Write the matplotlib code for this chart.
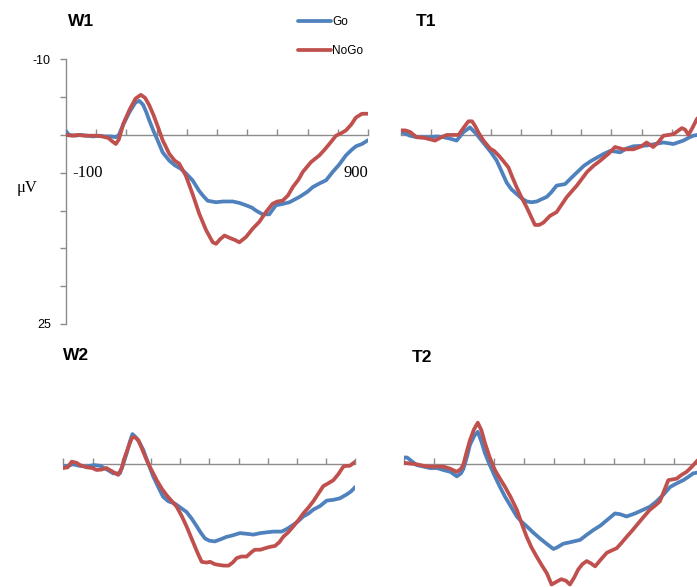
import numpy as np
import matplotlib
matplotlib.use("Agg")
import matplotlib.pyplot as plt

# ---------------- data (ms, µV) ----------------
w1_go_t = [-100, -90, -70, -50, -30, -10, 10, 30, 50, 65, 75, 90, 110, 130, 143, 155, 166, 176, 190, 200,
           220, 242, 260, 281, 300, 319, 341, 355, 369, 397, 420, 452, 475, 496, 515, 529, 551, 573, 595,
           620, 640, 673, 700, 717, 740, 761, 783, 805, 827, 845, 860, 880, 900]
w1_go_v = [-0.5, 0.0, 0.1, 0.0, 0.1, 0.2, 0.1, 0.2, 0.2, 0.3, 0.0, -1.4, -3.0, -4.3, -4.5, -4.0, -3.0, -1.9, -0.5, 0.4,
           2.3, 3.4, 4.0, 4.5, 5.2, 6.0, 7.4, 8.1, 8.7, 8.9, 8.8, 8.8, 9.0, 9.3, 9.6, 10.0, 10.5, 10.5, 9.3,
           9.1, 8.9, 8.2, 7.5, 6.9, 6.4, 6.0, 4.9, 3.9, 2.7, 2.0, 1.5, 1.2, 0.7]
w1_nogo_t = [-100, -80, -60, -40, -20, 0, 20, 40, 55, 65, 75, 90, 110, 130, 148, 162, 176, 190, 205, 220,
             242, 260, 275, 297, 319, 341, 364, 386, 397, 410, 425, 441, 460, 474, 496, 518, 540, 562, 584,
             600, 617, 635, 651, 670, 684, 711, 739, 755, 772, 794, 810, 827, 845, 860, 880, 900]
w1_nogo_v = [0.0, 0.1, 0.0, 0.1, 0.1, 0.1, 0.2, 0.4, 0.9, 1.2, 0.6, -1.5, -3.3, -4.8, -5.3, -4.9, -3.9, -2.6, -1.0, 0.7,
             2.5, 3.4, 3.8, 5.4, 7.8, 10.4, 12.6, 14.2, 14.4, 13.8, 13.3, 13.6, 13.9, 14.2, 13.5, 12.4, 11.5, 10.2, 9.1,
             8.8, 8.7, 8.0, 6.9, 5.9, 4.9, 3.6, 2.7, 2.0, 1.2, 0.1, -0.2, -0.6, -1.4, -2.3, -2.8, -2.8]

t1_go_t = [-100, -85, -70, -47, -25, -2, 20, 42, 65, 86, 108, 130, 152, 170, 186, 200, 219, 235, 252, 268,
           285, 302, 319, 335, 352, 368, 385, 400, 418, 446, 474, 508, 530, 552, 575, 597, 629, 650, 673,
           717, 745, 773, 806, 839, 860, 872, 900]
t1_go_v = [-0.35, -0.2, 0.1, 0.3, 0.3, 0.3, 0.2, 0.3, 0.5, 0.75, -0.35, -1.0, -0.1, 0.8, 1.6, 2.3, 3.4, 4.8, 6.3, 7.2,
           7.8, 8.4, 8.8, 8.9, 8.8, 8.5, 8.2, 7.6, 6.7, 6.5, 5.4, 4.1, 3.5, 3.0, 2.5, 2.1, 2.3, 1.8, 1.5,
           1.4, 1.2, 1.0, 1.2, 0.75, 0.3, 0.1, -0.1]
t1_nogo_t = [-100, -85, -69, -47, -20, 14, 35, 53, 75, 92, 110, 125, 137, 147, 160, 175, 197, 210, 225, 240,
             258, 270, 285, 302, 319, 333, 346, 360, 374, 396, 418, 435, 452, 485, 519, 540, 563, 590, 612,
             640, 673, 700, 717, 739, 755, 773, 790, 806, 820, 834, 845, 856, 870, 884, 900]
t1_nogo_v = [-0.6, -0.6, -0.4, 0.3, 0.4, 0.75, 0.3, 0.0, 0.0, 0.0, -1.0, -1.8, -1.8, -1.2, -0.2, 0.75, 1.8, 2.1, 2.7, 3.4,
             4.3, 5.5, 6.9, 8.3, 9.6, 10.8, 11.9, 11.9, 11.6, 10.7, 10.2, 9.2, 8.2, 6.7, 4.9, 4.1, 3.4, 2.5, 1.6,
             1.9, 1.9, 1.5, 1.0, 1.6, 1.0, 0.1, 0.0, -0.1, -0.5, -0.9, -0.7, 0.0, -1.0, -2.1, -2.8]

w2_go_t = [-100, -85, -66, -45, -20, 5, 26, 50, 71, 94, 105, 117, 128, 137, 150, 162, 174, 190, 208, 225,
           242, 260, 282, 300, 322, 340, 357, 370, 385, 400, 419, 440, 459, 480, 505, 530, 551, 575, 596,
           620, 648, 668, 688, 705, 722, 740, 756, 780, 802, 825, 847, 870, 885, 900]
w2_go_v = [0.3, 0.2, 0.0, 0.2, 0.3, 0.1, 0.2, 0.7, 1.2, 1.2, 0.0, -1.45, -3.0, -4.0, -3.5, -2.8, -1.9, -0.2, 1.6, 3.0,
           4.3, 4.9, 5.2, 5.7, 6.3, 7.2, 8.2, 9.0, 9.8, 10.1, 10.2, 9.9, 9.6, 9.4, 9.1, 9.2, 9.3, 9.1, 9.0,
           8.9, 8.9, 8.5, 8.0, 7.5, 6.9, 6.5, 6.0, 5.5, 4.8, 4.7, 4.5, 4.0, 3.6, 3.0]
w2_nogo_t = [-100, -85, -71, -55, -43, -20, 0, 14, 30, 48, 70, 88, 100, 111, 125, 135, 145, 157, 170, 185,
             200, 220, 237, 254, 270, 288, 305, 322, 337, 351, 363, 374, 390, 403, 418, 431, 450, 466, 480,
             494, 510, 528, 545, 556, 575, 591, 610, 625, 640, 653, 670, 688, 705, 722, 740, 756, 773, 790,
             808, 825, 842, 859, 870, 881, 900]
w2_nogo_v = [0.5, 0.4, -0.35, -0.2, 0.1, 0.4, 0.5, 0.75, 0.7, 0.5, 1.0, 1.4, 0.5, -1.0, -2.5, -3.5, -3.6, -3.2, -2.0, -0.6,
             0.6, 2.1, 3.2, 4.1, 4.8, 5.6, 6.8, 8.2, 9.6, 10.9, 12.0, 12.9, 13.0, 12.9, 13.2, 13.3, 13.4, 13.4, 13.0,
             12.4, 12.2, 12.2, 11.6, 11.3, 11.3, 11.1, 10.9, 10.8, 10.3, 9.6, 9.0, 8.2, 7.4, 6.5, 5.7, 4.9, 3.9, 2.9,
             2.5, 2.1, 1.3, 0.3, 0.2, 0.2, -0.35]

t2_go_t = [-100, -90, -80, -58, -35, -13, 10, 31, 55, 76, 90, 98, 110, 120, 135, 146, 158, 170, 185, 203,
           220, 237, 255, 276, 292, 309, 330, 353, 375, 398, 410, 431, 455, 487, 510, 531, 555, 576, 603,
           620, 642, 670, 698, 720, 742, 765, 787, 810, 831, 850, 864, 877, 900]
t2_go_v = [-0.9, -0.9, -0.6, 0.1, 0.3, 0.5, 0.5, 0.75, 1.0, 1.6, 1.2, 0.6, -1.0, -2.6, -3.8, -4.3, -3.0, -1.45, 0.0, 1.6,
           3.0, 4.3, 5.5, 6.9, 7.6, 8.2, 9.0, 9.8, 10.5, 11.2, 11.0, 10.5, 10.3, 10.0, 9.3, 8.7, 8.1, 7.4, 6.5,
           6.6, 6.9, 6.5, 6.0, 5.6, 4.9, 4.0, 3.0, 2.5, 2.1, 1.6, 1.2, 1.1, 0.9]
t2_nogo_t = [-100, -80, -58, -35, -13, 10, 31, 55, 76, 90, 98, 110, 120, 133, 146, 158, 170, 185, 203, 220,
             237, 255, 276, 292, 309, 325, 342, 360, 376, 392, 410, 424, 440, 453, 467, 481, 495, 509, 523,
             537, 556, 576, 592, 609, 625, 642, 660, 681, 700, 720, 736, 753, 767, 781, 795, 809, 825, 842,
             860, 877, 900]
t2_nogo_v = [-0.2, -0.1, 0.0, 0.2, 0.3, 0.3, 0.3, 0.6, 1.0, 0.6, 0.0, -1.8, -3.2, -4.6, -5.5, -4.5, -2.8, -1.0, 0.75, 1.9,
             3.0, 4.3, 6.0, 7.8, 9.6, 11.0, 12.2, 13.4, 14.4, 15.9, 15.5, 15.2, 15.4, 15.9, 15.0, 13.9, 13.2, 12.8, 13.1,
             13.5, 12.6, 11.7, 11.4, 11.1, 10.4, 9.6, 8.8, 7.8, 6.9, 6.0, 5.5, 4.9, 3.5, 2.1, 2.0, 1.9, 1.4, 1.0,
             0.3, -0.45, -1.3]

x_ticks = [-100, 0, 100, 200, 300, 400, 500, 600, 700, 800, 900]
y_ticks = [-10, -5, 0, 5, 10, 15, 20, 25]
y_ticklabels = ["-10", "", "", "", "", "", "", "25"]
series_labels = ["Go", "NoGo"]
panel_titles = ["W1", "T1", "W2", "T2"]

GO_C = "#4F81BD"
NOGO_C = "#C0504D"
AX_C = "#8c8c8c"

W, H = 697, 587
fig = plt.figure(figsize=(W / 100, H / 100), dpi=100)
fig.patch.set_facecolor("white")


def px_axes(left, right, top, bottom):
    return fig.add_axes([left / W, 1 - bottom / H, (right - left) / W, (bottom - top) / H])


def setup(ax, show_y):
    ax.set_xlim(-100, 900)
    ax.set_ylim(25, -10)
    ax.patch.set_alpha(0)
    for s in ["top", "right"]:
        ax.spines[s].set_visible(False)
    ax.spines["bottom"].set_position(("data", 0))
    ax.spines["bottom"].set_color(AX_C)
    ax.spines["bottom"].set_linewidth(1.0)
    ax.set_xticks(x_ticks)
    ax.set_xticklabels([])
    ax.tick_params(axis="x", direction="in", length=4, color=AX_C, width=1.0)
    if show_y:
        ax.spines["left"].set_color(AX_C)
        ax.spines["left"].set_linewidth(1.0)
        ax.set_yticks(y_ticks)
        ax.set_yticklabels(y_ticklabels, fontsize=9, family="Liberation Sans")
        ax.tick_params(axis="y", direction="out", length=4, color=AX_C, width=1.0, pad=7)
    else:
        ax.spines["left"].set_visible(False)
        ax.set_yticks([])


LW = 2.7
axes_spec = [
    (66, 368, 59.3, 324.0, True, w1_go_t, w1_go_v, w1_nogo_t, w1_nogo_v),
    (400.7, 701.7, 59.3, 324.0, False, t1_go_t, t1_go_v, t1_nogo_t, t1_nogo_v),
    (63.3, 355.3, 388.7, 653.3, False, w2_go_t, w2_go_v, w2_nogo_t, w2_nogo_v),
    (404, 704, 388.7, 653.3, False, t2_go_t, t2_go_v, t2_nogo_t, t2_nogo_v),
]
axs = []
for (l, r, tp, b, sy, gt, gv, nt, nv) in axes_spec:
    ax = px_axes(l, r, tp, b)
    setup(ax, sy)
    lg, = ax.plot(gt, gv, color=GO_C, lw=LW, solid_joinstyle="round", solid_capstyle="round",
                  label=series_labels[0], zorder=3)
    ln, = ax.plot(nt, nv, color=NOGO_C, lw=LW, solid_joinstyle="round", solid_capstyle="round",
                  label=series_labels[1], zorder=4)
    axs.append((ax, lg, ln))

# W1 extras: axis labels
ax0 = axs[0][0]
ax0.annotate("-100", xy=(-100, 5), xytext=(6, 0), textcoords="offset pixels",
             ha="left", va="center", fontsize=12, family="Liberation Serif")
ax0.annotate("900", xy=(900, 5), xytext=(0, 0), textcoords="offset pixels",
             ha="right", va="center", fontsize=12, family="Liberation Serif")
fig.text(27 / W, 1 - 188 / H, "μV", ha="center", va="center", fontsize=12, family="Liberation Serif")

# Titles
title_pos = [(68, 22), (416, 22), (63, 356), (412, 357)]
for (x, y), t in zip(title_pos, panel_titles):
    fig.text(x / W, 1 - y / H, t, ha="left", va="center", fontsize=12.5, fontweight="bold",
             family="Liberation Sans")

# Legend
leg = fig.legend(handles=[axs[0][1], axs[0][2]], labels=series_labels, loc="upper left",
                 bbox_to_anchor=(298 / W, 1 - 16 / H), frameon=False,
                 prop={"family": "Liberation Sans", "size": 8.5},
                 handlelength=2.8, handletextpad=0.1, labelspacing=1.45, borderpad=0, borderaxespad=0)

fig.savefig("out.png", dpi=100)
